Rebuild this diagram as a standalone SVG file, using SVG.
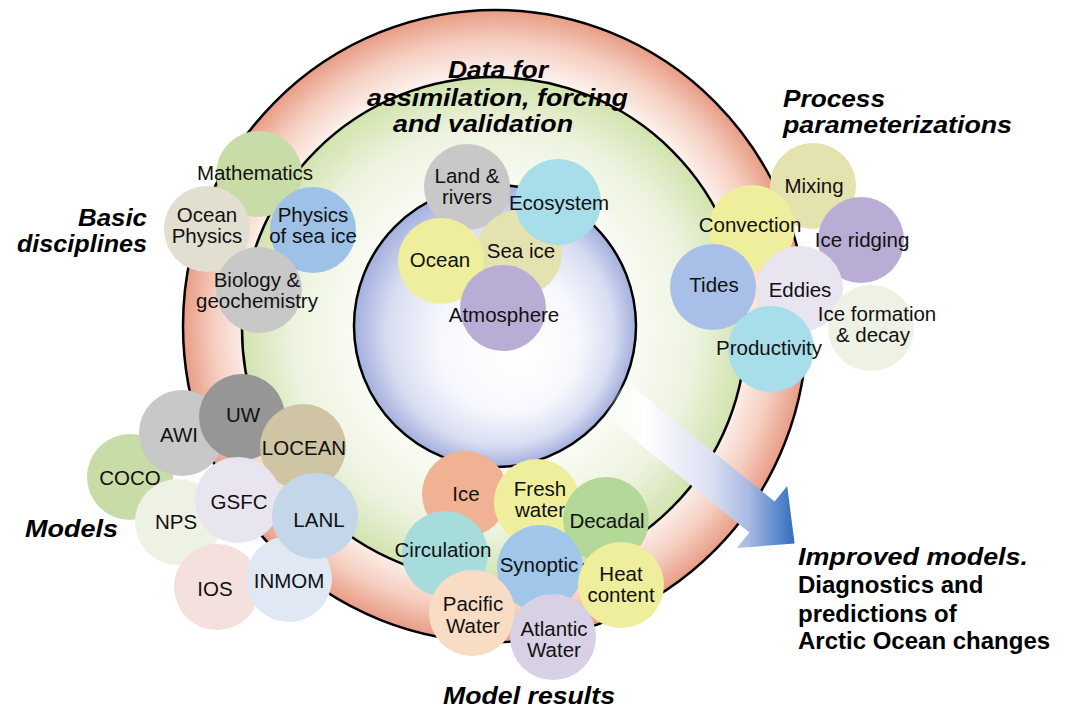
<svg xmlns="http://www.w3.org/2000/svg" width="1065" height="713" viewBox="0 0 1065 713">
<defs>
<radialGradient id="gOuter" cx="0.5" cy="0.5" r="0.5">
<stop offset="0.78" stop-color="#FEF6F3"/>
<stop offset="0.9" stop-color="#F5CFC1"/>
<stop offset="1" stop-color="#E89C85"/>
</radialGradient>
<radialGradient id="gMiddle" cx="0.5" cy="0.5" r="0.5">
<stop offset="0.55" stop-color="#FAFCF5"/>
<stop offset="0.8" stop-color="#EDF3DF"/>
<stop offset="1" stop-color="#D2E3AE"/>
</radialGradient>
<radialGradient id="gInner" cx="0.5" cy="0.5" r="0.5" fx="0.6" fy="0.62">
<stop offset="0" stop-color="#FFFFFF"/>
<stop offset="0.5" stop-color="#F7F8FD"/>
<stop offset="0.8" stop-color="#D8DDF2"/>
<stop offset="1" stop-color="#A3AFDD"/>
</radialGradient>
<linearGradient id="gArrow" gradientUnits="userSpaceOnUse" x1="605" y1="0" x2="796" y2="0">
<stop offset="0" stop-color="#FFFFFF" stop-opacity="0"/>
<stop offset="0.2" stop-color="#FFFFFF" stop-opacity="1"/>
<stop offset="0.55" stop-color="#DCE1F2"/>
<stop offset="0.75" stop-color="#A9B9E2"/>
<stop offset="1" stop-color="#2D6CC0"/>
</linearGradient>
<style>
.ring{stroke:#000;stroke-width:2.5}
.n circle{stroke:none}
.n text{font-family:"Liberation Sans",Arial,sans-serif;font-size:20.5px;fill:#111;text-anchor:middle}
.lbl{font-family:"Liberation Sans",Arial,sans-serif;font-size:24px;font-weight:bold;font-style:italic;fill:#000}
.sub{font-family:"Liberation Sans",Arial,sans-serif;font-size:24px;font-weight:bold;fill:#000}
.c-green{fill:#C8DCA8}.c-beige{fill:#E2DED0}.c-blue1{fill:#9DC1E7}.c-gray{fill:#C8C8C8}
.c-cyan{fill:#A8DDEA}.c-yellow{fill:#EEEE9C}.c-khaki{fill:#E4E2AE}.c-purple{fill:#B9ADD5}
.c-blue2{fill:#A8C0E8}.c-lav{fill:#E8E4F0}.c-pale{fill:#EEF2E4}.c-dgray{fill:#969696}
.c-tan{fill:#CFC5A5}.c-lblue{fill:#C4D6EA}.c-pink{fill:#F4E0DC}.c-pblue{fill:#E0E8F4}
.c-salmon{fill:#F1B294}.c-green2{fill:#B4D898}.c-teal{fill:#A6DCDC}.c-blue3{fill:#A0C6EA}
.c-peach{fill:#F9DCC4}.c-mauve{fill:#D8D0E4}
</style>
</defs>
<rect width="1065" height="713" fill="#FFFFFF"/>
<g id="rings">
<ellipse class="ring" cx="495" cy="326" rx="312" ry="316" fill="url(#gOuter)"/>
<circle class="ring" cx="494" cy="329" r="252" fill="url(#gMiddle)"/>
<circle class="ring" cx="495" cy="326" r="141" fill="url(#gInner)"/>
</g>
<g id="connectors">
<polygon points="627,382 774.6,501.5 787.2,485.9 794.6,543.4 736.8,548.1 749.4,532.5 601.8,413" fill="url(#gArrow)"/>
</g>
<g id="labels">
<text class="lbl" x="448" y="78" textLength="100" lengthAdjust="spacingAndGlyphs">Data for</text>
<text class="lbl" x="367" y="106" textLength="261" lengthAdjust="spacingAndGlyphs">assimilation, forcing</text>
<text class="lbl" x="393" y="132" textLength="180" lengthAdjust="spacingAndGlyphs">and validation</text>
<text class="lbl" x="783" y="107" textLength="102" lengthAdjust="spacingAndGlyphs">Process</text>
<text class="lbl" x="783" y="133" textLength="229" lengthAdjust="spacingAndGlyphs">parameterizations</text>
<text class="lbl" x="78" y="226" textLength="69" lengthAdjust="spacingAndGlyphs">Basic</text>
<text class="lbl" x="17" y="252" textLength="130" lengthAdjust="spacingAndGlyphs">disciplines</text>
<text class="lbl" x="25" y="537" textLength="93" lengthAdjust="spacingAndGlyphs">Models</text>
<text class="lbl" x="443" y="704" textLength="172" lengthAdjust="spacingAndGlyphs">Model results</text>
<text class="lbl" x="798" y="565" textLength="230" lengthAdjust="spacingAndGlyphs">Improved models.</text>
<text class="sub" x="798" y="593">Diagnostics and</text>
<text class="sub" x="798" y="622">predictions of</text>
<text class="sub" x="798" y="649">Arctic Ocean changes</text>
</g>
<g id="node-mathematics" class="n"><circle class="c-green" cx="259" cy="174" r="43"/><text x="255" y="180">Mathematics</text></g>
<g id="node-ocean-physics" class="n"><circle class="c-beige" cx="207" cy="229" r="43"/><text x="207" y="222">Ocean</text><text x="207" y="243">Physics</text></g>
<g id="node-physics-sea-ice" class="n"><circle class="c-blue1" cx="313" cy="230" r="43"/><text x="313" y="222">Physics</text><text x="313" y="243">of sea ice</text></g>
<g id="node-biology" class="n"><circle class="c-gray" cx="259" cy="290" r="43"/><text x="257" y="287">Biology &amp;</text><text x="257" y="308">geochemistry</text></g>
<g id="node-land-rivers" class="n"><circle class="c-gray" cx="467" cy="187" r="43"/><text x="467" y="183">Land &amp;</text><text x="467" y="204">rivers</text></g>
<g id="node-sea-ice" class="n"><circle class="c-khaki" cx="519" cy="253" r="43"/><text x="521" y="258">Sea ice</text></g>
<g id="node-ecosystem" class="n"><circle class="c-cyan" cx="558" cy="202" r="43"/><text x="559" y="210">Ecosystem</text></g>
<g id="node-ocean" class="n"><circle class="c-yellow" cx="441" cy="261" r="43"/><text x="440" y="267">Ocean</text></g>
<g id="node-atmosphere" class="n"><circle class="c-purple" cx="503" cy="308" r="43"/><text x="504" y="322">Atmosphere</text></g>
<g id="node-mixing" class="n"><circle class="c-khaki" cx="813" cy="186" r="43"/><text x="814" y="193">Mixing</text></g>
<g id="node-convection" class="n"><circle class="c-yellow" cx="752" cy="228" r="43"/><text x="750" y="232">Convection</text></g>
<g id="node-ice-ridging" class="n"><circle class="c-purple" cx="861" cy="240" r="43"/><text x="862" y="247">Ice ridging</text></g>
<g id="node-tides" class="n"><circle class="c-blue2" cx="713" cy="287" r="43"/><text x="714" y="292">Tides</text></g>
<g id="node-eddies" class="n"><circle class="c-lav" cx="800" cy="289" r="43"/><text x="800" y="297">Eddies</text></g>
<g id="node-ice-formation" class="n"><circle class="c-pale" cx="871" cy="328" r="43"/><text x="877" y="321">Ice formation</text><text x="873" y="342">&amp; decay</text></g>
<g id="node-productivity" class="n"><circle class="c-cyan" cx="771" cy="349" r="43"/><text x="769" y="355">Productivity</text></g>
<g id="node-coco" class="n"><circle class="c-green" cx="130" cy="477" r="43"/><text x="130" y="485">COCO</text></g>
<g id="node-awi" class="n"><circle class="c-gray" cx="182" cy="433" r="43"/><text x="179" y="442">AWI</text></g>
<g id="node-uw" class="n"><circle class="c-dgray" cx="242" cy="417" r="43"/><text x="243" y="422">UW</text></g>
<g id="node-locean" class="n"><circle class="c-tan" cx="303" cy="447" r="43"/><text x="304" y="455">LOCEAN</text></g>
<g id="node-nps" class="n"><circle class="c-pale" cx="178" cy="522" r="43"/><text x="176" y="529">NPS</text></g>
<g id="node-gsfc" class="n"><circle class="c-lav" cx="238" cy="500" r="43"/><text x="239" y="509">GSFC</text></g>
<g id="node-ios" class="n"><circle class="c-pink" cx="217" cy="587" r="43"/><text x="215" y="596">IOS</text></g>
<g id="node-inmom" class="n"><circle class="c-pblue" cx="289" cy="579" r="43"/><text x="289" y="588">INMOM</text></g>
<g id="node-lanl" class="n"><circle class="c-lblue" cx="315" cy="516" r="43"/><text x="319" y="527">LANL</text></g>
<g id="node-ice" class="n"><circle class="c-salmon" cx="465" cy="494" r="43"/><text x="466" y="501">Ice</text></g>
<g id="node-fresh-water" class="n"><circle class="c-yellow" cx="537" cy="502" r="43"/><text x="540" y="496">Fresh</text><text x="540" y="517">water</text></g>
<g id="node-decadal" class="n"><circle class="c-green2" cx="606" cy="520" r="43"/><text x="607" y="528">Decadal</text></g>
<g id="node-circulation" class="n"><circle class="c-teal" cx="445" cy="554" r="43"/><text x="443" y="557">Circulation</text></g>
<g id="node-synoptic" class="n"><circle class="c-blue3" cx="540" cy="568" r="43"/><text x="539" y="572">Synoptic</text></g>
<g id="node-heat-content" class="n"><circle class="c-yellow" cx="621" cy="585" r="43"/><text x="621" y="581">Heat</text><text x="621" y="602">content</text></g>
<g id="node-pacific-water" class="n"><circle class="c-peach" cx="472" cy="613" r="43"/><text x="473" y="611">Pacific</text><text x="473" y="633">Water</text></g>
<g id="node-atlantic-water" class="n"><circle class="c-mauve" cx="553" cy="637" r="43"/><text x="554" y="636">Atlantic</text><text x="554" y="657">Water</text></g>
</svg>
